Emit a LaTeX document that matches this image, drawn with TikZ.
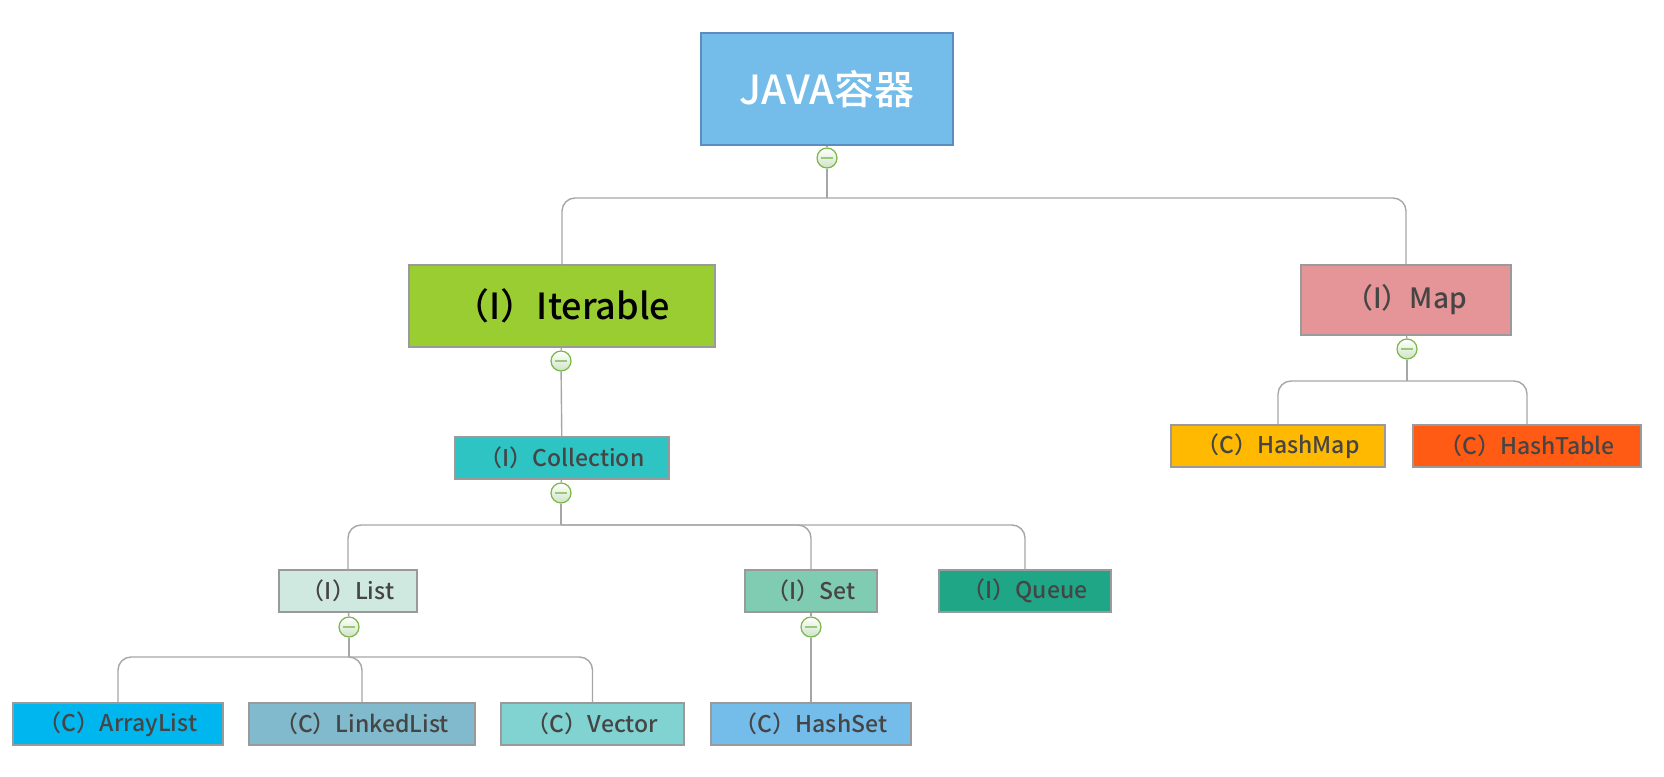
\documentclass[tikz,border=0pt]{standalone}
\usepackage{fontspec}
\setmainfont{Noto Sans CJK SC Medium}
\usepackage{xcolor}
\usepackage{tikz}
\usetikzlibrary{positioning, shadings}

\definecolor{boxline}{HTML}{9A9A9A}
\definecolor{linegray}{HTML}{A6A6A6}
\definecolor{textgray}{HTML}{454545}
\definecolor{foldgreen}{HTML}{7AB648}
\definecolor{foldfill}{HTML}{CFE3C6}
\definecolor{javablue}{HTML}{74BCE9}
\definecolor{javaline}{HTML}{5B8DBE}
\definecolor{itergreen}{HTML}{9ACD32}
\definecolor{mappink}{HTML}{E59497}
\definecolor{colcyan}{HTML}{2EC4C3}
\definecolor{listmint}{HTML}{CFE8E0}
\definecolor{setmint}{HTML}{80CCB3}
\definecolor{queuegreen}{HTML}{1EA687}
\definecolor{alistblue}{HTML}{00B6EF}
\definecolor{llistblue}{HTML}{80BACC}
\definecolor{vectorcyan}{HTML}{80D3D0}
\definecolor{hsetblue}{HTML}{74BCE9}
\definecolor{hmapyellow}{HTML}{FFB900}
\definecolor{htableorange}{HTML}{FF5B15}

\begin{document}
\begin{tikzpicture}[
  x=0.5pt, y=-0.5pt,
  box/.style={rectangle, draw=boxline, line width=0.6pt, minimum height=21pt,
              inner sep=0pt, text=textgray, font=\fontsize{11.5}{13}\selectfont},
  fold/.style={circle, draw=foldgreen, line width=0.6pt, minimum size=10pt, inner sep=0pt,
               top color=white, bottom color=foldfill,
               path picture={\draw[foldgreen!75, line width=1.1pt]
                 ([xshift=-3.2pt]path picture bounding box.center) --
                 ([xshift=3.2pt]path picture bounding box.center);}},
  conn/.style={draw=linegray, line width=0.7pt, rounded corners=6.5pt}
]
\useasboundingbox (0,0) rectangle (1664,776);

% Row y positions (px)
\def\yA{89}   % root
\def\yB{306}  % Iterable / Map
\def\yC{458}  % Collection
\def\yD{591}  % List / Set / Queue
\def\yE{724}  % classes

% Root
\node[box, fill=javablue, draw=javaline, minimum width=126pt, minimum height=56pt,
      text=white, font=\fontsize{20}{22}\selectfont] (java) at (827,\yA) {JAVA容器};

% Second row
\node[box, fill=itergreen, minimum width=153pt, minimum height=41pt,
      text=black, font=\fontsize{18}{20}\selectfont] (iter) at (562,\yB) {（I）Iterable};
\node[box, fill=mappink, minimum width=105pt, minimum height=35pt,
      font=\fontsize{14}{16}\selectfont] (map) at (1406,300) {（I）Map};

% Map classes
\node[box, fill=hmapyellow,   minimum width=107pt] (hmap)   at (1278,446) {（C）HashMap};
\node[box, fill=htableorange, minimum width=114pt] (htable) at (1527,446) {（C）HashTable};

% Collection
\node[box, fill=colcyan, minimum width=107pt] (coll) at (562,\yC) {（I）Collection};

% Interfaces
\node[box, fill=listmint,   minimum width=69pt] (list)  at (348,\yD)  {（I）List};
\node[box, fill=setmint,    minimum width=66pt] (set)   at (811,\yD)  {（I）Set};
\node[box, fill=queuegreen, minimum width=86pt] (queue) at (1025,\yD) {（I）Queue};

% Classes
\node[box, fill=alistblue,  minimum width=105pt]   (alist)  at (118,\yE)   {（C）ArrayList};
\node[box, fill=llistblue,  minimum width=113pt]   (llist)  at (362,\yE)   {（C）LinkedList};
\node[box, fill=vectorcyan, minimum width=91.5pt]  (vector) at (592.5,\yE) {（C）Vector};
\node[box, fill=hsetblue,   minimum width=100pt]   (hset)   at (811,\yE)   {（C）HashSet};

% Fold buttons
\node[fold] (javafold) at (827,158) {};
\node[fold] (iterfold) at (561,361) {};
\node[fold] (mapfold)  at (1407,349) {};
\node[fold] (collfold) at (561,493) {};
\node[fold] (listfold) at (349,627) {};
\node[fold] (setfold)  at (811,627) {};

% Branch points
\coordinate (javabar) at (827,198);
\coordinate (mapbar)  at (1407,381);
\coordinate (collbar) at (561,525);
\coordinate (listbar) at (349,657);

% Connectors
\draw[conn] (java) -- (javafold);
\draw[conn] (javafold) -- (javabar);
\draw[conn] (javabar) -| (iter.north);
\draw[conn] (javabar) -| (map.north);

\draw[conn] (iter) -- (iterfold);
\draw[conn] (iterfold) -- (coll);

\draw[conn] (map) -- (mapfold);
\draw[conn] (mapfold) -- (mapbar);
\draw[conn] (mapbar) -| (hmap.north);
\draw[conn] (mapbar) -| (htable.north);

\draw[conn] (coll) -- (collfold);
\draw[conn] (collfold) -- (collbar);
\draw[conn] (collbar) -| (list.north);
\draw[conn] (collbar) -| (set.north);
\draw[conn] (collbar) -| (queue.north);

\draw[conn] (list) -- (listfold);
\draw[conn] (listfold) -- (listbar);
\draw[conn] (listbar) -| (alist.north);
\draw[conn] (listbar) -| (llist.north);
\draw[conn] (listbar) -| (vector.north);

\draw[conn] (set) -- (setfold);
\draw[conn] (setfold) -- (hset);
\end{tikzpicture}
\end{document}
